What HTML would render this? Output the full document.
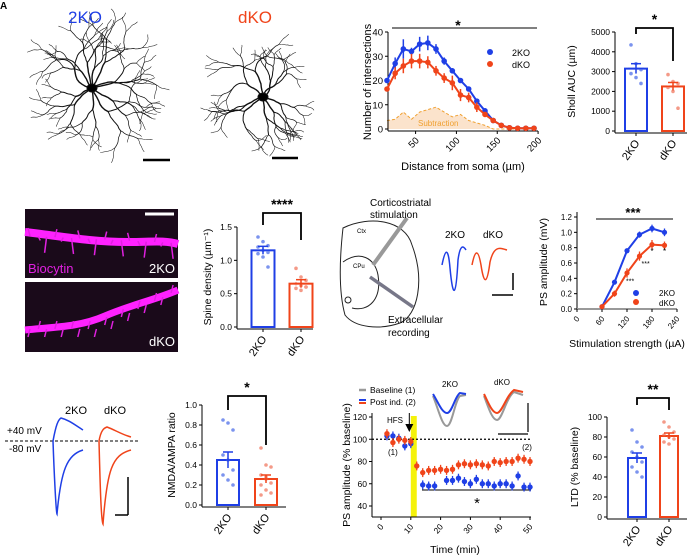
<!DOCTYPE html>
<html><head><meta charset="utf-8">
<style>
html,body{margin:0;padding:0;background:#fff;}
svg{display:block;font-family:"Liberation Sans",Arial,sans-serif;}
</style></head>
<body>
<svg id="fig" width="693" height="558" viewBox="0 0 693 558"></svg>
<script>
// ---------- DATA ----------
const shollDist = [15,25,35,45,55,65,75,85,95,105,115,125,135,145,155,165,175,185,195];
const shollBlue = [20,27,33,32,35,35.5,33,28,24,20,16.5,11.5,7.5,3.5,1.5,0.5,0.3,0.3,0.3];
const shollRed  = [16.5,23,26,28,28,27.5,24,21,19,14,13,9,6,3.5,1.5,0.5,0.3,0.3,0.3];
const shollErrB = [1,2.5,4,1.5,3,3,2,1.5,1,1,1,1,1,1,0.5,0.3,0.3,0.3,0.3];
const shollErrR = [1,2.5,3,3,3,2.5,2,2,3,2.5,2,2,1,1,0.5,0.3,0.3,0.3,0.3];
const shollYTicks = [0,10,20,30,40];
const shollXTicks = [50,100,150,200];
const aucGroups = ["2KO","dKO"];
const aucMeans = [3150,2250];
const aucSem = [250,200];
const aucPtsB = [4350,3400,3100,2900,2700,2400];
const aucPtsR = [2850,2500,2400,2200,2000,1150];
const aucTicks = [0,1000,2000,3000,4000,5000];
const spineMeans = [1.15,0.65];
const spineSem = [0.06,0.06];
const spinePtsB = [1.35,1.28,1.22,1.2,1.15,1.12,1.1,1.05,0.9];
const spinePtsR = [0.88,0.75,0.7,0.65,0.62,0.6,0.58,0.55,0.6];
const spineTicks = [0,0.5,1.0,1.5];
const psStim = [60,90,120,150,180,210];
const psBlue = [0.03,0.35,0.76,0.97,1.05,1.0];
const psRed  = [0.03,0.2,0.47,0.69,0.84,0.83];
const psErrB = [0.02,0.03,0.03,0.04,0.05,0.05];
const psErrR = [0.02,0.04,0.06,0.06,0.06,0.05];
const psYTicks = [0,0.2,0.4,0.6,0.8,1.0,1.2];
const psXTicks = [0,60,120,180,240];
const nmdaMeans = [0.45,0.26];
const nmdaSem = [0.08,0.04];
const nmdaPtsB = [0.85,0.82,0.75,0.5,0.45,0.35,0.3,0.25,0.2];
const nmdaPtsR = [0.57,0.4,0.38,0.3,0.26,0.22,0.2,0.15,0.12,0.1,0.28];
const nmdaTicks = [0,0.2,0.4,0.6,0.8,1.0];
const ltdBaseT = [2,4,6,8,10];
const ltdBaseB = [103,103,101,94,96];
const ltdBaseR = [105,97,100,99,98];
const ltdPostTR = [12,14,16,18,20,22,24,26,28,30,32,34,36,38,40,42,44,46,48,50];
const ltdPostR  = [76,70,72,72,73,72,73,77,78,77,78,77,76,80,79,80,80,83,82,80];
const ltdPostTB = [14,16,18,22,24,26,28,30,32,34,36,38,40,42,44,46,48,50];
const ltdPostB  = [59,58,58,63,63,65,62,60,64,60,60,58,60,60,58,67,57,57];
const ltdYTicks = [40,60,80,100,120];
const ltdXTicks = [0,10,20,30,40,50];
const ltdMeans = [59,81];
const ltdSem = [5,3];
const ltdPtsB = [87,75,70,65,60,55,50,45,40];
const ltdPtsR = [95,90,85,82,80,78,75,73];
const ltdTicks = [0,20,40,60,80,100];

const BLUE="#1f3fe6", RED="#f0441a", LB="#7b93ee", LR="#f49a88";
const svg=document.getElementById('fig');
function mk(tag,attrs,name,parent){
  const el=document.createElementNS('http://www.w3.org/2000/svg',tag);
  for(const k in attrs) el.setAttribute(k,attrs[k]);
  
  
  (parent||svg).appendChild(el);
  return el;
}
function txt(x,y,s,size,name,opt){
  opt=opt||{};
  const t=mk('text',{x:x,y:y,'font-size':size,fill:opt.fill||'#000','text-anchor':opt.anchor||'start'},name);
  if(opt.rot) t.setAttribute('transform','rotate('+opt.rot+' '+x+' '+y+')');
  if(opt.weight) t.setAttribute('font-weight',opt.weight);
  t.textContent=s; return t;
}
function line(x1,y1,x2,y2,name,stroke,w,dash){
  const l=mk('line',{x1:x1,y1:y1,x2:x2,y2:y2,stroke:stroke||'#000','stroke-width':w||1},name);
  if(dash) l.setAttribute('stroke-dasharray',dash);
  return l;
}
function lin(d0,d1,p0,p1){return v=>p0+(v-d0)*(p1-p0)/(d1-d0);}

// ---------- PANEL A: neurons (decorative) ----------
let seed=11;function rnd(){seed=(seed*16807)%2147483647;return seed/2147483647;}
function neuron(cx,cy,n,len,name){
  const g=mk('g',{stroke:'#111',fill:'none','stroke-linecap':'round','stroke-linejoin':'round'},name);
  function br(x,y,a,L,w,d){
    let px=x,py=y,pts=[[x,y]];const steps=8;
    for(let i=0;i<steps;i++){a+=(rnd()-0.5)*0.6;px+=Math.cos(a)*L/steps;py+=Math.sin(a)*L/steps;pts.push([px,py]);}
    mk('polyline',{points:pts.map(p=>p.join(',')).join(' '),'stroke-width':w},'dendrite',g);
    if(d<4){br(px,py,a+0.35+rnd()*0.3,L*0.8,Math.max(0.5,w*0.72),d+1);br(px,py,a-0.35-rnd()*0.3,L*0.8,Math.max(0.5,w*0.72),d+1);}
  }
  for(let i=0;i<n;i++) br(cx,cy,i*2*Math.PI/n+rnd()*0.4,len*(0.6+rnd()*0.5),1.4,1);
  mk('ellipse',{cx:cx,cy:cy,rx:5,ry:4,fill:'#000'},'soma',g);
}
neuron(92,88,12,27,'neuron-2ko');
neuron(263,97,9,30,'neuron-dko');
txt(0,9,"A",10,'panel-label-a',{weight:'bold'});
txt(85,23,"2KO",17,'title-2ko',{fill:BLUE,anchor:'middle'});
txt(255,23,"dKO",17,'title-dko',{fill:RED,anchor:'middle'});
line(143,160,170,160,'scale-bar-2ko','#000',2.5);
line(272,158,298,158,'scale-bar-dko','#000',2.5);

// ---------- PANEL B: Sholl ----------
(function(){
  const X=lin(15,195,387,534), Y=lin(0,40,129,32);
  const sub=shollBlue.map((b,i)=>Math.max(0,b-shollRed[i]));
  let d='M'+X(shollDist[0])+','+Y(0);
  shollDist.forEach((t,i)=>d+=' L'+X(t)+','+Y(sub[i]));
  d+=' L'+X(shollDist[shollDist.length-1])+','+Y(0)+'Z';
  mk('path',{d:d,fill:'#fbe3cc',stroke:'none'},'subtraction-area');
  mk('polyline',{points:shollDist.map((t,i)=>X(t)+','+Y(sub[i])).join(' '),fill:'none',stroke:'#f0a030','stroke-dasharray':'3,2','stroke-width':1},'subtraction-line');
  txt(418,126,"Subtraction",8,'subtraction-label',{fill:'#f0a030'});
  line(388,32,388,131,'sholl-y-axis');line(388,131,538,131,'sholl-x-axis');
  shollYTicks.forEach(v=>{line(385,Y(v),388,Y(v),'sholl-y-tick');txt(383,Y(v)+3.5,String(v),9.5,'sholl-y-tick-label',{anchor:'end'});});
  shollXTicks.forEach(v=>{line(X(v),131,X(v),134,'sholl-x-tick');txt(X(v)+4,141,String(v),9.5,'sholl-x-tick-label',{anchor:'end',rot:-45});});
  txt(371,82,"Number of intersections",11,'sholl-y-title',{anchor:'middle',rot:-90});
  txt(463,170,"Distance from soma (µm)",11,'sholl-x-title',{anchor:'middle'});
  line(392,28,537,28,'sholl-sig-bar');txt(458,30,"*",14,'sholl-sig-star',{anchor:'middle',weight:'bold'});
  [[shollBlue,shollErrB,BLUE,'2ko'],[shollRed,shollErrR,RED,'dko']].forEach(([v,e,c,n])=>{
    mk('polyline',{points:shollDist.map((t,i)=>X(t)+','+Y(v[i])).join(' '),fill:'none',stroke:c,'stroke-width':2},'sholl-line-'+n);
    shollDist.forEach((t,i)=>{line(X(t),Y(v[i]-e[i]),X(t),Y(v[i]+e[i]),'sholl-err-'+n,c,1.5);mk('circle',{cx:X(t),cy:Y(v[i]),r:2.8,fill:c},'sholl-point-'+n);});
  });
  mk('circle',{cx:490,cy:52,r:3,fill:BLUE},'legend-marker-2ko');txt(512,56,"2KO",9,'legend-2ko');
  mk('circle',{cx:490,cy:64,r:3,fill:RED},'legend-marker-dko');txt(512,68,"dKO",9,'legend-dko');
})();

// ---------- bar chart helper ----------
function barChart(o){
  const Y=lin(o.d0,o.d1,o.y0,o.y1);
  line(o.ax,o.y1,o.ax,o.y0+2,o.p+'-y-axis');line(o.ax,o.y0+2,o.ax+o.w,o.y0+2,o.p+'-x-axis');
  o.ticks.forEach(v=>{line(o.ax-3,Y(v),o.ax,Y(v),o.p+'-y-tick');txt(o.ax-5,Y(v)+3,o.fmt?o.fmt(v):String(v),8.5,o.p+'-y-tick-label',{anchor:'end'});});
  txt(o.ax-o.tOff,(o.y0+o.y1)/2,o.title,10.5,o.p+'-y-title',{anchor:'middle',rot:-90});
  const cols=[[BLUE,LB],[RED,LR]],pts=[o.ptsB,o.ptsR];
  o.cx.forEach((cx,i)=>{
    mk('rect',{x:cx-o.bw/2,y:Y(o.means[i]),width:o.bw,height:o.y0-Y(o.means[i]),fill:'none',stroke:cols[i][0],'stroke-width':2},o.p+'-bar-'+aucGroups[i].toLowerCase());
    pts[i].forEach((v,j)=>mk('circle',{cx:cx+((j%3)-1)*5,cy:Y(v),r:1.8,fill:cols[i][1]},o.p+'-point'));
    line(cx,Y(o.means[i]-o.sem[i]),cx,Y(o.means[i]+o.sem[i]),o.p+'-sem',cols[i][0],1.5);
    line(cx-5,Y(o.means[i]+o.sem[i]),cx+5,Y(o.means[i]+o.sem[i]),o.p+'-sem-cap',cols[i][0],1.5);
    line(cx-8,Y(o.means[i]),cx+8,Y(o.means[i]),o.p+'-mean',cols[i][0],1.5);
    line(cx,o.y0+2,cx,o.y0+5,o.p+'-x-tick');
    txt(cx+4,o.y0+12,aucGroups[i],11,o.p+'-x-label-'+aucGroups[i].toLowerCase(),{anchor:'end',rot:-55});
  });
  const sy=o.sigY;
  mk('polyline',{points:o.cx[0]+','+o.b0+' '+o.cx[0]+','+sy+' '+o.cx[1]+','+sy+' '+o.cx[1]+','+o.b1,fill:'none',stroke:'#000','stroke-width':1.8},o.p+'-sig-bracket');
  txt((o.cx[0]+o.cx[1])/2,sy-4,o.star,14,o.p+'-sig-star',{anchor:'middle',weight:'bold'});
}
barChart({p:'auc',d0:0,d1:5000,y0:131,y1:32,ax:615,w:72,cx:[636,673],bw:22,means:aucMeans,sem:aucSem,ptsB:aucPtsB,ptsR:aucPtsR,ticks:aucTicks,title:"Sholl AUC (µm)",tOff:40,sigY:28,b0:34,b1:61,star:"*"});
barChart({p:'spine',d0:0,d1:1.5,y0:327,y1:227,ax:237,w:76,cx:[263,301],bw:23,means:spineMeans,sem:spineSem,ptsB:spinePtsB,ptsR:spinePtsR,ticks:spineTicks,fmt:v=>v.toFixed(1),title:"Spine density (µm⁻¹)",tOff:26,sigY:213,b0:225,b1:240,star:"****"});
barChart({p:'nmda',d0:0,d1:1.0,y0:505,y1:405,ax:202,w:84,cx:[228,266],bw:22,means:nmdaMeans,sem:nmdaSem,ptsB:nmdaPtsB,ptsR:nmdaPtsR,ticks:nmdaTicks,fmt:v=>v.toFixed(1),title:"NMDA/AMPA ratio",tOff:27,sigY:396,b0:410,b1:445,star:"*"});
barChart({p:'ltd',d0:0,d1:100,y0:517,y1:417,ax:607,w:80,cx:[637,669],bw:18,means:ltdMeans,sem:ltdSem,ptsB:ltdPtsB,ptsR:ltdPtsR,ticks:ltdTicks,title:"LTD (% baseline)",tOff:29,sigY:398,b0:405,b1:410,star:"**"});

// ---------- Biocytin images ----------
(function(){
  mk('rect',{x:25,y:209,width:153,height:69,fill:'#1a0a1a'},'biocytin-image-2ko');
  mk('rect',{x:25,y:282,width:153,height:70,fill:'#1a0a1a'},'biocytin-image-dko');
  mk('path',{d:'M25,232 C60,236 90,242 130,242 C150,242 165,240 178,244',stroke:'#ff22ff','stroke-width':8,fill:'none'},'dendrite-2ko');
  mk('path',{d:'M25,330 C55,327 80,327 105,316 C130,305 155,300 178,290',stroke:'#ff22ff','stroke-width':7,fill:'none'},'dendrite-dko');
  for(let i=0;i<18;i++){const x=30+i*8.3;line(x,236+i*0.4,x+(i%2?2:-2),228+i*0.4+(i%3)*12,'spine','#e020e0',1.5);}
  for(let i=0;i<18;i++){const x=30+i*8.3,y=329-(i>8?(i-8)*4:0);line(x,y,x+(i%2?2:-2),y+(i%2?-8:8),'spine','#e020e0',1.5);}
  line(145,214,174,214,'image-scale-bar','#fff',3);
  txt(28,273,"Biocytin",13,'biocytin-label',{fill:'#e020e0'});
  txt(175,273,"2KO",13,'image-label-2ko',{fill:'#fff',anchor:'end'});
  txt(175,346,"dKO",13,'image-label-dko',{fill:'#fff',anchor:'end'});
})();

// ---------- Slice schematic ----------
(function(){
  mk('path',{d:'M343,228 C370,215 405,220 412,245 C425,280 418,315 400,323 C380,330 355,328 345,315 C338,290 340,255 343,228Z',fill:'none',stroke:'#222','stroke-width':1},'slice-outline');
  mk('path',{d:'M343,262 C360,250 375,258 378,275 C382,300 368,312 352,308',fill:'none',stroke:'#222','stroke-width':1},'striatum-outline');
  mk('circle',{cx:348,cy:300,r:3,fill:'none',stroke:'#222','stroke-width':1},'ventricle');
  txt(357,233,"Ctx",6,'ctx-label');txt(353,268,"CPu",6,'cpu-label');
  line(373,265,407,218,'stim-electrode','#999',4);
  line(370,277,413,307,'rec-electrode','#778',3.5);
  txt(370,206,"Corticostriatal",10,'stim-label');txt(370,218,"stimulation",10,'stim-label-2');
  txt(388,323,"Extracellular",10,'rec-label');txt(388,336,"recording",10,'rec-label-2');
  txt(455,238,"2KO",10,'trace-label-2ko',{anchor:'middle'});txt(493,238,"dKO",10,'trace-label-dko',{anchor:'middle'});
  mk('path',{d:'M442,265 C445,250 448,245 450,268 C453,300 456,298 458,260 C460,245 463,245 466,250',fill:'none',stroke:BLUE,'stroke-width':1.5},'ps-trace-2ko');
  mk('path',{d:'M472,265 C475,250 478,248 481,265 C484,285 487,285 490,262 C494,245 500,248 507,250',fill:'none',stroke:RED,'stroke-width':1.5},'ps-trace-dko');
  line(513,273,513,290,'trace-scale-v','#000',1.5);line(492,295,513,295,'trace-scale-h','#000',1.5);
})();

// ---------- PS amplitude ----------
(function(){
  const X=lin(0,240,577,677), Y=lin(0,1.2,309,217);
  line(577,212,577,309,'ps-y-axis');line(577,309,677,309,'ps-x-axis','#999',2);
  psYTicks.forEach(v=>{line(574,Y(v),577,Y(v),'ps-y-tick');txt(572,Y(v)+3,v.toFixed(1),8,'ps-y-tick-label',{anchor:'end'});});
  psXTicks.forEach(v=>{line(X(v),309,X(v),312,'ps-x-tick');txt(X(v)+3,319,String(v),8,'ps-x-tick-label',{anchor:'end',rot:-50});});
  txt(547,262,"PS amplitude (mV)",10.5,'ps-y-title',{anchor:'middle',rot:-90});
  txt(627,347,"Stimulation strength (µA)",10.5,'ps-x-title',{anchor:'middle'});
  line(596,219,673,219,'ps-sig-bar');txt(633,217,"***",13,'ps-sig-stars',{anchor:'middle',weight:'bold'});
  [[psBlue,psErrB,BLUE,'2ko'],[psRed,psErrR,RED,'dko']].forEach(([v,e,c,n])=>{
    mk('polyline',{points:psStim.map((t,i)=>X(t)+','+Y(v[i])).join(' '),fill:'none',stroke:c,'stroke-width':2},'ps-line-'+n);
    psStim.forEach((t,i)=>{line(X(t),Y(v[i]-e[i]),X(t),Y(v[i]+e[i]),'ps-err-'+n,c,1.3);mk('circle',{cx:X(t),cy:Y(v[i]),r:2.6,fill:c},'ps-point-'+n);});
  });
  txt(X(150)+2,Y(0.56),"***",7,'ps-star-150');txt(X(120)-1,Y(0.33),"***",7,'ps-star-120');
  txt(X(180),Y(0.72),"*",8,'ps-star-180',{anchor:'middle'});txt(X(210),Y(0.72),"*",8,'ps-star-210',{anchor:'middle'});
  mk('circle',{cx:636,cy:293,r:3,fill:BLUE},'ps-legend-marker-2ko');txt(659,296,"2KO",8,'ps-legend-2ko');
  mk('circle',{cx:636,cy:302,r:3,fill:RED},'ps-legend-marker-dko');txt(659,306,"dKO",8,'ps-legend-dko');
})();

// ---------- EPSC traces ----------
(function(){
  txt(76,414,"2KO",11,'epsc-label-2ko',{anchor:'middle'});txt(115,414,"dKO",11,'epsc-label-dko',{anchor:'middle'});
  txt(7,434,"+40 mV",10,'label-plus40');txt(9,452,"-80 mV",10,'label-minus80');
  line(5,441,138,441,'holding-baseline','#000',1,'3,2');
  mk('path',{d:'M53,441 C56,425 58,420 61,418 C69,420 75,425 83,430',fill:'none',stroke:BLUE,'stroke-width':1.5},'epsc-2ko-plus40');
  mk('path',{d:'M53,441 C54,470 56,512 57,514 C61,470 67,455 83,450',fill:'none',stroke:BLUE,'stroke-width':1.5},'epsc-2ko-minus80');
  mk('path',{d:'M99,441 C101,430 104,428 107,427 C115,430 123,435 131,437',fill:'none',stroke:RED,'stroke-width':1.5},'epsc-dko-plus40');
  mk('path',{d:'M99,441 C100,480 101,520 103,524 C107,470 112,455 131,450',fill:'none',stroke:RED,'stroke-width':1.5},'epsc-dko-minus80');
  line(128,477,128,515,'epsc-scale-v','#000',1.5);line(115,515,128,515,'epsc-scale-h','#000',1.5);
})();

// ---------- LTD time course ----------
(function(){
  const X=lin(0,50,381,530), Y=lin(40,120,506,417);
  mk('rect',{x:X(10),y:416,width:X(12)-X(10),height:101,fill:'#f5f20a'},'hfs-highlight');
  line(372,413,372,517,'ltd-y-axis');line(372,517,531,517,'ltd-x-axis');
  ltdYTicks.forEach(v=>{line(369,Y(v),372,Y(v),'ltd-y-tick');txt(367,Y(v)+3,String(v),8.5,'ltd-y-tick-label',{anchor:'end'});});
  ltdXTicks.forEach(v=>{line(X(v),517,X(v),520,'ltd-x-tick');txt(X(v)+3,527,String(v),8.5,'ltd-x-tick-label',{anchor:'end',rot:-50});});
  txt(350,465,"PS amplitude (% baseline)",10.5,'ltd-y-title',{anchor:'middle',rot:-90});
  txt(455,553,"Time (min)",10.5,'ltd-x-title',{anchor:'middle'});
  line(372,Y(100),531,Y(100),'baseline-100','#000',1.2,'2,2');
  line(422,490,531,490,'ltd-sig-bar');txt(477,508,"*",15,'ltd-sig-star',{anchor:'middle'});
  txt(387,423,"HFS",8,'hfs-label');
  mk('path',{d:'M'+(X(9.5)-4)+',424 l8,0 l-4,8z',fill:'#000'},'hfs-arrow');
  line(X(9.5),413,X(9.5),425,'hfs-arrow-stem','#000',1);
  txt(388,455,"(1)",8,'label-1');txt(527,450,"(2)",8,'label-2',{anchor:'middle'});
  const draw=(ts,vs,c,n)=>ts.forEach((t,i)=>{line(X(t),Y(vs[i]-4),X(t),Y(vs[i]+4),'ltd-err-'+n,c,1.3);mk('circle',{cx:X(t),cy:Y(vs[i]),r:2.7,fill:c},'ltd-point-'+n);});
  draw(ltdBaseT,ltdBaseB,BLUE,'2ko');draw(ltdBaseT,ltdBaseR,RED,'dko');
  draw(ltdPostTR,ltdPostR,RED,'dko');draw(ltdPostTB,ltdPostB,BLUE,'2ko');
  line(359,390,366,390,'legend-baseline-mark','#999',2.5);txt(370,393,"Baseline (1)",8.5,'legend-baseline');
  line(359,400,366,400,'legend-post-mark-b',BLUE,2);line(359,403,366,403,'legend-post-mark-r',RED,2);txt(370,405,"Post ind. (2)",8.5,'legend-post');
  txt(450,387,"2KO",8,'inset-label-2ko',{anchor:'middle'});txt(502,385,"dKO",8,'inset-label-dko',{anchor:'middle'});
  mk('path',{d:'M433,396 C438,408 442,426 447,426 C452,426 455,400 460,396 L466,395',fill:'none',stroke:'#999','stroke-width':2},'inset-baseline-2ko');
  mk('path',{d:'M433,394 C438,402 442,413 447,413 C452,413 455,396 460,393 L466,394',fill:'none',stroke:BLUE,'stroke-width':2},'inset-post-2ko');
  mk('path',{d:'M484,396 C488,406 492,420 497,420 C502,420 506,398 514,392 L523,395',fill:'none',stroke:'#999','stroke-width':2},'inset-baseline-dko');
  mk('path',{d:'M484,394 C488,402 492,413 497,413 C502,413 506,396 514,390 L523,392',fill:'none',stroke:RED,'stroke-width':2},'inset-post-dko');
  line(528,403,528,432,'inset-scale-v','#000',1.2);line(498,434,528,434,'inset-scale-h','#000',1.2);
})();
</script>
</body></html>
